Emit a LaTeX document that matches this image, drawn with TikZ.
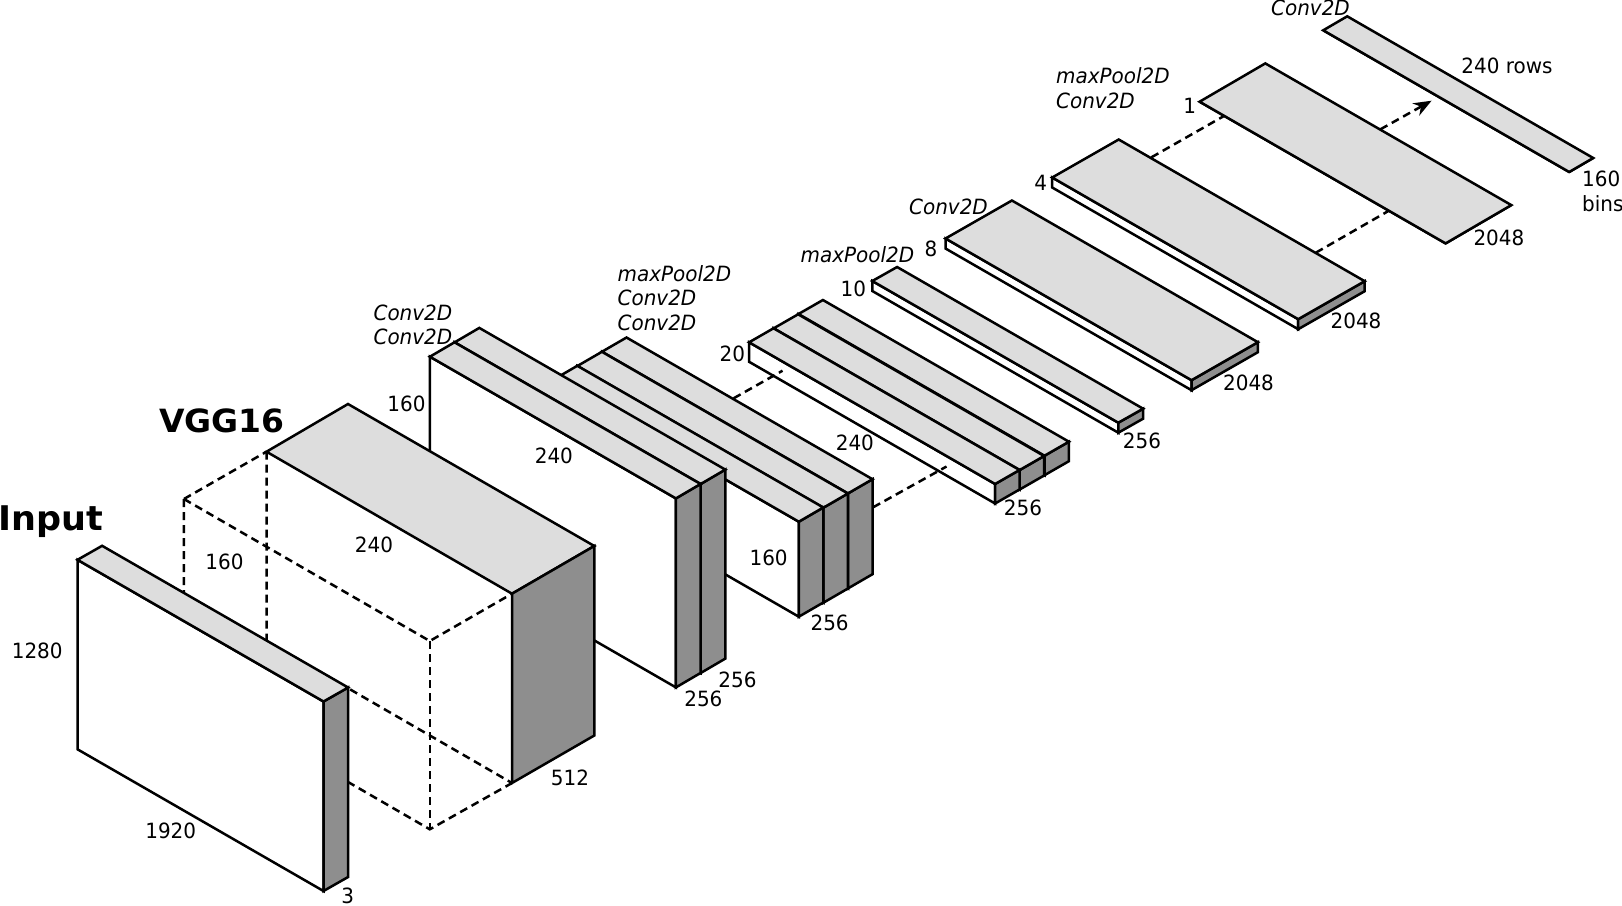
\documentclass[tikz,border=0pt]{standalone}
\usepackage{fontspec}
\setmainfont{DejaVu Sans}[FakeStretch=0.95]
\newfontfamily\headfont{DejaVu Sans}[FakeStretch=1.03]
\usetikzlibrary{arrows.meta}
\definecolor{topgray}{RGB}{221,221,221}
\definecolor{sidegray}{RGB}{142,142,142}
\tikzset{
  faceln/.style={line width=2.5pt, draw=black},
  hiddenln/.style={line width=2.5pt, dash pattern=on 8pt off 5pt},
  flowln/.style={hiddenln, -{Stealth[length=18pt,width=14pt]}},
  dimlbl/.style={font=\fontsize{21}{25}\selectfont, inner sep=0pt},
  oplbl/.style={font=\fontsize{21}{24.7}\selectfont\itshape, inner sep=0pt, align=left, anchor=west},
  titlelbl/.style={font=\fontsize{33}{36}\headfont\bfseries, inner sep=0pt},
}
% one layer: corner x, corner y, depth x, depth y, height
\newcommand{\slab}[5]{%
  \filldraw[faceln, fill=white] (#1,#2) -- ++(246,141.7) -- ++(0,#5) -- ++(-246,-141.7) -- cycle;
  \filldraw[faceln, fill=sidegray] (#1,#2) ++(246,141.7) -- ++(#3,#4) -- ++(0,#5) -- ++(-#3,-#4) -- cycle;
  \filldraw[faceln, fill=topgray] (#1,#2) -- ++(246,141.7) -- ++(#3,#4) -- ++(-246,-141.7) -- cycle;
}
\begin{document}
\begin{tikzpicture}[x=1pt, y=-1pt]
  \useasboundingbox (0,0) rectangle (1622,905);
  % output layer and the flow arrow
  \slab{1323.2}{30.3}{24}{-14}{0}
  \coordinate (flowA) at (1380.4,129.3);
  \coordinate (flowB) at (1431.6,100.7);
  \draw[flowln] (flowA) -- (flowB);
  % thin layers
  \slab{1199.6}{101.7}{65.7}{-38.3}{0}
  \coordinate (linkA) at (1151.4,157.3);
  \coordinate (linkB) at (1224.5,115.7);
  \coordinate (linkC) at (1315.8,252.7);
  \coordinate (linkD) at (1388.9,210.7);
  \draw[hiddenln] (linkA) -- (linkB);
  \draw[hiddenln] (linkC) -- (linkD);
  \slab{1052.2}{177.5}{66.5}{-38}{10}
  \slab{945.5}{238.5}{66.4}{-38}{10}
  \slab{872.3}{281}{24.8}{-14}{10}
  % three stacked layers, height 20
  \foreach \x/\y in {798.5/314, 773.7/328.3, 749.1/342.3} {
    \slab{\x}{\y}{24.4}{-14}{19.5}
  }
  \coordinate (linkE) at (733.6,398.3);
  \coordinate (linkF) at (782.5,370.7);
  \coordinate (linkG) at (873.1,507.3);
  \coordinate (linkH) at (946.5,466.5);
  \draw[hiddenln] (linkE) -- (linkF);
  \draw[hiddenln] (linkG) -- (linkH);
  % three stacked layers, height 160
  \foreach \x/\y in {602/351.7, 577.4/366, 552.8/380} {
    \slab{\x}{\y}{24.5}{-14.2}{95}
  }
  % two stacked layers, height 160
  \foreach \x/\y in {454.7/342.3, 429.9/356.7} {
    \slab{\x}{\y}{24.6}{-14.4}{189}
  }
  % VGG16 block, front part left open
  \fill[white] (183.9,499) -- (348,404) -- (594.3,546) -- (594.3,735.5) -- (429.8,829.3) -- (183.9,687) -- cycle;
  \coordinate (vggA) at (183.9,499);
  \coordinate (vggB) at (266.5,451.7);
  \coordinate (vggC) at (429.8,641);
  \coordinate (vggD) at (512,593.7);
  \coordinate (vggE) at (183.9,687);
  \coordinate (vggF) at (266.5,641);
  \coordinate (vggG) at (429.8,829.3);
  \coordinate (vggH) at (512,783);
  \draw[hiddenln] (vggA) -- (vggB);
  \draw[hiddenln] (vggA) -- (vggC) -- (vggD);
  \draw[hiddenln] (vggA) -- (vggE) -- (vggG) -- (vggH);
  \draw[hiddenln] (vggB) -- (vggF) -- (vggH);
  \draw[hiddenln] (vggC) -- (vggG);
  \filldraw[faceln, fill=topgray] (vggB) -- (348,404) -- (594.3,546) -- (vggD) -- cycle;
  \filldraw[faceln, fill=sidegray] (vggD) -- (594.3,546) -- (594.3,735.5) -- (vggH) -- cycle;
  % input image
  \slab{77.5}{559.8}{24.6}{-14}{189.5}
  % sizes
  \foreach \x/\y/\lab [count=\n] in {
    37.2/650.6/1280, 170.7/830.6/1920, 347.6/895.5/3, 224.5/561.7/160,
    374/545.1/240, 570/777.9/512, 406.5/403.4/160, 553.9/456.2/240,
    703.4/699.3/256, 737.5/679.6/256, 768.6/557.6/160, 829.6/622.7/256,
    732.4/353.8/20, 854.9/442.7/240, 1023/507.9/256, 853.4/288.6/10,
    1142/440.7/256, 931/249.3/8, 1248.5/382.7/2048, 1040.6/183.1/4,
    1356/320.7/2048, 1189.6/105.5/1, 1498.9/237.9/2048, 1507/66.2/240 rows} {
    \node[dimlbl] (dim\n) at (\x,\y) {\lab};
  }
  \node[dimlbl, align=left, anchor=west] (binsLbl) at (1582,191) {160\\bins};
  % operations
  \node[oplbl] (opA) at (373.4,324.8) {Conv2D\\Conv2D};
  \node[oplbl] (opB) at (617.5,297.9) {maxPool2D\\Conv2D\\Conv2D};
  \node[oplbl] (opC) at (800.5,254.5) {maxPool2D};
  \node[oplbl] (opD) at (909,206.9) {Conv2D};
  \node[oplbl] (opE) at (1056,87.9) {maxPool2D\\Conv2D};
  \node[oplbl] (opF) at (1271,8.3) {Conv2D};
  % titles
  \node[titlelbl, font=\fontsize{34}{36}\headfont\bfseries] (inputLbl) at (50.5,522) {Input};
  \node[titlelbl, font=\fontsize{32}{36}\headfont\bfseries] (vggLbl) at (222,421) {VGG16};
\end{tikzpicture}
\end{document}
